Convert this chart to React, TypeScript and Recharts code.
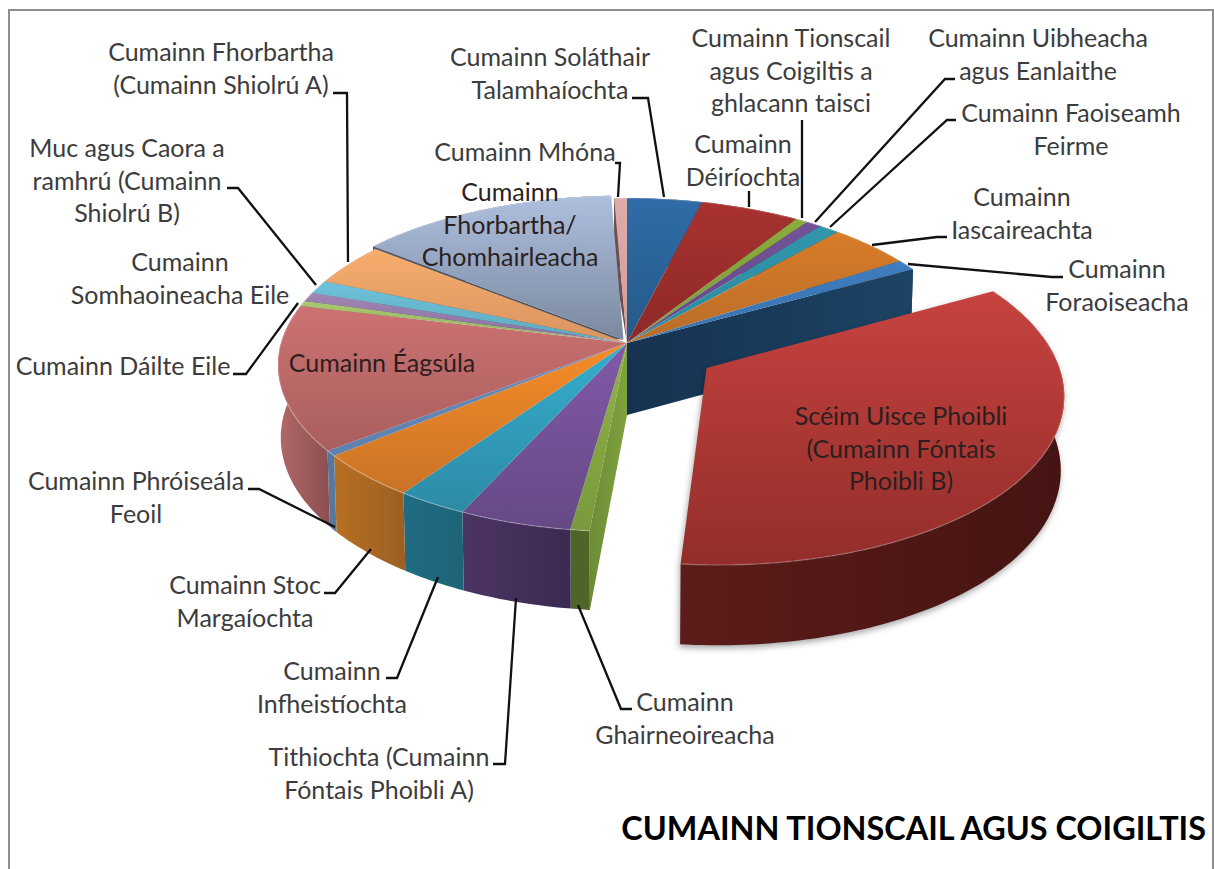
import { Pie, PieChart } from "recharts";

// Wrapped label text, one entry per slice, clockwise from 12 o'clock
const labelText: string[][] = [
  ["Cumainn Soláthair", "Talamhaíochta"],
  ["Cumainn", "Déiríochta"],
  ["Cumainn Tionscail", "agus Coigiltis a", "ghlacann taisci"],
  ["Cumainn Uibheacha", "agus Eanlaithe"],
  ["Cumainn Faoiseamh", "Feirme"],
  ["Cumainn", "Iascaireachta"],
  ["Cumainn", "Foraoiseacha"],
  ["Scéim Uisce Phoibli", "(Cumainn Fóntais", "Phoibli B)"],
  ["Cumainn", "Ghairneoireacha"],
  ["Tithiochta (Cumainn", "Fóntais Phoibli A)"],
  ["Cumainn", "Infheistíochta"],
  ["Cumainn Stoc", "Margaíochta"],
  ["Cumainn Phróiseála", "Feoil"],
  ["Cumainn Éagsúla"],
  ["Cumainn Dáilte Eile"],
  ["Cumainn", "Somhaoineacha Eile"],
  ["Muc agus Caora a", "ramhrú (Cumainn", "Shiolrú B)"],
  ["Cumainn Fhorbartha", "(Cumainn Shiolrú A)"],
  ["Cumainn", "Fhorbartha/", "Chomhairleacha"],
  ["Cumainn Mhóna"],
];

// Share of the pie in percent
const shares = [
  3.93, 5.21, 0.64, 0.8, 1.08, 4.33, 1.08, 34.4, 0.78, 4.6, 2.9, 4.36, 0.53,
  14.05, 0.53, 0.89, 1.33, 4.14, 13.7, 0.67,
];

const TITLE = "CUMAINN TIONSCAIL AGUS COIGILTIS";

const topLight = [
  "#2f6ca8", "#a8322f", "#8aab3e", "#735398", "#3096ac", "#d87c28", "#3f7dc0",
  "#c6433f", "#8fb346", "#8259a8", "#34aecd", "#f78c27", "#6a8fbe", "#cd7272",
  "#a9c872", "#9f84b4", "#6dc2da", "#f7ad6d", "#aebfde", "#deacaa",
];
const topDark = [
  "#265a88", "#8d2927", "#7c9a38", "#644887", "#2c8a9e", "#b86d28", "#3a72ad",
  "#932d2a", "#799a3c", "#654985", "#2e8aa5", "#c97327", "#5d80ad", "#a95e5e",
  "#93b162", "#8b72a0", "#5ea9be", "#d9945f", "#7a899f", "#d09c9b",
];
const wallLeft = [
  "#1d3f60", "#5e1b19", "#4f6428", "#452e60", "#1c5c6c", "#a8641f", "#16324f",
  "#5c1c19", "#4f6428", "#4c3462", "#1f6c82", "#b87022", "#56789f", "#b26868",
  "#7a8a50", "#5f4a72", "#3c7386", "#9a6a3a", "#4c5566", "#6a5050",
];
const wallRight = [
  "#1d3f60", "#5e1b19", "#4f6428", "#452e60", "#1c5c6c", "#a0601f", "#1c4263",
  "#451412", "#506528", "#3c2a52", "#1e6478", "#9c5f22", "#56789f", "#8b4f50",
  "#7a8a50", "#5f4a72", "#3c7386", "#9a6a3a", "#4c5566", "#6a5050",
];

// Pulled-out slices, as a fraction of the radius
const explode: Record<number, number> = { 7: 0.27, 18: 0.022 };
// Cut faces that can be seen: slice index -> which radial edge
const cutFaces: Record<number, ("start" | "end")[]> = {
  6: ["end"],
  8: ["start"],
};
// Faces at the back only show in the thin gap round the pulled-out slice
const backFaces = [18, 19];

const labelLayout: { x: number; y: number; leader?: number[][]; dark?: boolean }[] = [
  { x: 550, y: 57, leader: [[632, 98], [648, 98], [664, 197]] },
  { x: 743, y: 144, leader: [[749, 191], [749, 207]] },
  { x: 791, y: 38, leader: [[802, 120], [802, 218]] },
  { x: 1038, y: 38, leader: [[955, 79], [945, 79], [815, 222]] },
  { x: 1071, y: 113, leader: [[956, 120], [947, 120], [830, 227]] },
  { x: 1022, y: 197, leader: [[947, 237], [937, 237], [872, 245]] },
  { x: 1117, y: 269, leader: [[1063, 277], [1052, 277], [908, 264]] },
  { x: 901, y: 416, dark: true },
  { x: 685, y: 702, leader: [[632, 709], [621, 709], [578, 605]] },
  { x: 379, y: 757, leader: [[493, 764], [505, 764], [516, 598]] },
  { x: 332, y: 671, leader: [[386, 678], [397, 678], [438, 577]] },
  { x: 245, y: 585, leader: [[324, 593], [335, 593], [371, 549]] },
  { x: 136, y: 481, leader: [[248, 489], [259, 489], [335, 527]] },
  { x: 382, y: 363, dark: true },
  { x: 123, y: 366, leader: [[233, 374], [246, 374], [298, 303]] },
  { x: 180, y: 262 },
  { x: 127, y: 148, leader: [[227, 188], [238, 188], [316, 285]] },
  { x: 221, y: 52, leader: [[333, 93], [347, 93], [348, 262]] },
  { x: 510, y: 192, dark: true },
  { x: 525, y: 152, leader: [[615, 163], [620, 163], [618, 197]] },
];

const rows = labelText.map((lines, i) => ({ name: lines.join(" "), value: shares[i], slice: i }));

const CX = 627;
const CY = 343;
const RADIUS = 346;
const SQUASH = 0.474; // tilt of the pie plane
const PERSPECTIVE = 0.1316;
const THICKNESS = 72;
const LINE_HEIGHT = 32.5;
const FONT = "Lato, 'Open Sans', sans-serif";

type Pt = { x: number; y: number; w: number };

// pie plane -> screen. u to the right, v towards the back
function project(cx: number, cy: number, r: number, u: number, v: number): Pt {
  const w = 1 + PERSPECTIVE * v;
  return { x: cx + (r * u) / w, y: cy - (r * SQUASH * v) / w, w };
}

function drop(p: Pt, cx: number): Pt {
  return {
    x: cx + (p.x - cx) * 0.992,
    y: p.y + THICKNESS * (1 + 0.65 * (1 / p.w - 1)),
    w: p.w,
  };
}

function toPath(points: Pt[], close = true) {
  const d = points.map((p, i) => `${i ? "L" : "M"}${p.x.toFixed(1)},${p.y.toFixed(1)}`).join("");
  return close ? d + "Z" : d;
}

function sliceGeometry(props: any) {
  const slice = props.payload?.slice ?? props.slice;
  const a1 = 90 - props.startAngle;
  const a2 = 90 - props.endAngle;
  const mid = (((a1 + a2) / 2) * Math.PI) / 180;
  const d = explode[slice] ?? 0;
  const ou = d * Math.sin(mid);
  const ov = d * Math.cos(mid);
  const at = (deg: number, rr = 1) => {
    const t = (deg * Math.PI) / 180;
    return project(props.cx, props.cy, props.outerRadius, ou + rr * Math.sin(t), ov + rr * Math.cos(t));
  };
  const steps = Math.max(2, Math.ceil(a2 - a1));
  const arc: Pt[] = [];
  for (let i = 0; i <= steps; i++) arc.push(at(a1 + ((a2 - a1) * i) / steps));
  return { slice, arc, apex: at(0, 0), cx: props.cx };
}

function Walls(props: any) {
  const { slice, arc, apex, cx } = sliceGeometry(props);
  const outer = [...arc, ...arc.map((p) => drop(p, cx)).reverse()];
  const faces = cutFaces[slice] ?? [];
  return (
    <g>
      <path d={toPath(outer)} fill={`url(#wall-${slice})`} />
      {faces.map((edge) => {
        const rim = edge === "start" ? arc[0] : arc[arc.length - 1];
        const fill = slice === 6 ? "url(#navy-face)" : "url(#green-face)";
        return <path key={edge} d={toPath([apex, rim, drop(rim, cx), drop(apex, cx)])} fill={fill} />;
      })}
      {backFaces.includes(slice) && (
        <path d={toPath([apex, arc[0], drop(arc[0], cx)])} fill={wallRight[slice]} />
      )}
    </g>
  );
}

function Top(props: any) {
  const { slice, arc, apex } = sliceGeometry(props);
  return (
    <g>
      <path d={toPath([apex, ...arc])} fill={`url(#top-${slice})`} />
      <path d={toPath(arc, false)} fill="none" stroke="#ffffff" strokeOpacity={0.22} strokeWidth={1.4} />
    </g>
  );
}

// walls and top of the big slice go last, it sits in front of everything
function LiftedSlice(props: any) {
  if ((props.payload?.slice ?? props.slice) !== 7) return <g />;
  return (
    <g style={{ filter: "drop-shadow(-1px 3px 3px rgba(0,0,0,0.35))" }}>
      <Walls {...props} />
      <Top {...props} />
    </g>
  );
}

function MainWalls(props: any) {
  if ((props.payload?.slice ?? props.slice) === 7) return <g />;
  return <Walls {...props} />;
}

function MainTop(props: any) {
  if ((props.payload?.slice ?? props.slice) === 7) return <g />;
  return <Top {...props} />;
}

function renderLabel(props: any) {
  const i = props.index;
  const layout = labelLayout[i];
  return (
    <g key={i}>
      {layout.leader && (
        <polyline
          points={layout.leader.map((p) => p.join(",")).join(" ")}
          fill="none"
          stroke="#111111"
          strokeWidth={2.3}
        />
      )}
      {labelText[i].map((line, n) => (
        <text
          key={n}
          x={layout.x}
          y={layout.y - 1 + n * LINE_HEIGHT}
          textAnchor="middle"
          dominantBaseline="central"
          fontFamily={FONT}
          fontSize={25}
          fill={layout.dark ? "#2b1f1f" : "#3c3c3c"}
        >
          {line}
        </text>
      ))}
    </g>
  );
}

const pieProps = {
  data: rows,
  dataKey: "value",
  nameKey: "name",
  cx: CX,
  cy: CY,
  innerRadius: 0,
  outerRadius: RADIUS,
  startAngle: 90,
  endAngle: -270,
  stroke: "none",
  isAnimationActive: false,
  labelLine: false,
};

export default function App() {
  return (
    <div style={{ position: "absolute", left: 0, top: 0, width: 1214, height: 869, background: "#fff", overflow: "hidden" }}>
      <div
        style={{
          position: "absolute",
          left: 8,
          top: 9,
          width: 1202,
          height: 870,
          borderTop: "2px solid #8f8f8f",
          borderLeft: "2px solid #8f8f8f",
          borderRight: "2px solid #8f8f8f",
        }}
      />
      <div style={{ position: "absolute", left: 0, top: 0 }}>
        <PieChart width={1214} height={869} margin={{ top: 0, right: 0, bottom: 0, left: 0 }}>
          <defs>
            {shares.map((_, i) => (
              <linearGradient key={`t${i}`} id={`top-${i}`} x1="0" y1="0" x2="0" y2="1">
                <stop offset="0%" stopColor={topLight[i]} />
                <stop offset="100%" stopColor={topDark[i]} />
              </linearGradient>
            ))}
            {shares.map((_, i) => (
              <linearGradient key={`w${i}`} id={`wall-${i}`} x1="0" y1="0" x2="1" y2="0">
                <stop offset="0%" stopColor={wallLeft[i]} />
                <stop offset="100%" stopColor={wallRight[i]} />
              </linearGradient>
            ))}
            <linearGradient id="navy-face" x1="0" y1="0" x2="1" y2="0">
              <stop offset="0%" stopColor="#163250" />
              <stop offset="100%" stopColor="#1d4465" />
            </linearGradient>
            <linearGradient id="green-face" x1="0" y1="0" x2="1" y2="0">
              <stop offset="0%" stopColor="#6c8c36" />
              <stop offset="100%" stopColor="#7fa23e" />
            </linearGradient>
          </defs>
          <Pie {...pieProps} shape={MainWalls} label={false} style={{ filter: "drop-shadow(0px 3px 3px rgba(0,0,0,0.3))" }} />
          <Pie {...pieProps} shape={MainTop} label={false} />
          <Pie {...pieProps} shape={LiftedSlice} label={renderLabel} />
        </PieChart>
      </div>
      <div
        style={{
          position: "absolute",
          right: 8,
          top: 806,
          fontFamily: FONT,
          fontWeight: 700,
          fontSize: 32.4,
          lineHeight: "44px",
          color: "#000",
          whiteSpace: "nowrap",
        }}
      >
        {TITLE}
      </div>
    </div>
  );
}
